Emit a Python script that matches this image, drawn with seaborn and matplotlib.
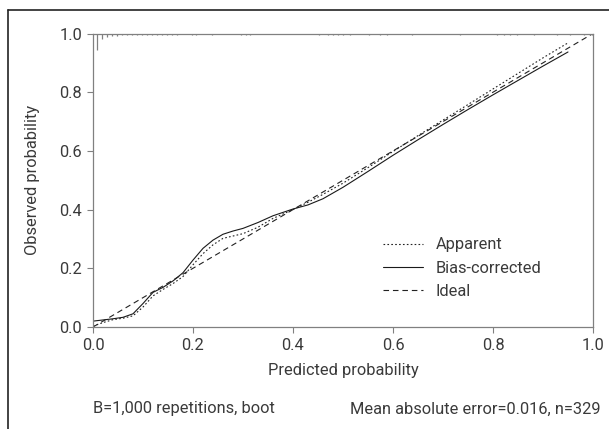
import matplotlib
matplotlib.use("Agg")
import matplotlib.pyplot as plt
import seaborn as sns
import pandas as pd
import numpy as np
from matplotlib.lines import Line2D

# calibration curves
pred_grid = [0.00, 0.02, 0.04, 0.06, 0.08, 0.10, 0.12, 0.14, 0.16, 0.18, 0.20,
             0.22, 0.24, 0.26, 0.28, 0.30, 0.33, 0.36, 0.40, 0.43, 0.46, 0.50,
             0.55, 0.60, 0.65, 0.70, 0.75, 0.80, 0.85, 0.90, 0.95]
apparent = [0.003, 0.015, 0.025, 0.030, 0.038, 0.068, 0.106, 0.128, 0.148, 0.172, 0.212,
            0.250, 0.280, 0.302, 0.310, 0.318, 0.340, 0.370, 0.400, 0.425, 0.452, 0.490,
            0.543, 0.598, 0.652, 0.705, 0.758, 0.811, 0.864, 0.917, 0.968]
bias_corrected = [0.020, 0.024, 0.028, 0.033, 0.045, 0.080, 0.118, 0.135, 0.157, 0.185, 0.228,
                  0.268, 0.296, 0.316, 0.327, 0.336, 0.356, 0.379, 0.402, 0.416, 0.437, 0.476,
                  0.530, 0.585, 0.638, 0.690, 0.741, 0.791, 0.840, 0.889, 0.937]
ideal_x = [0.0, 1.0]
ideal_y = [0.0, 1.0]

# rug of predicted probabilities along the top (position, relative frequency)
rug_x = [0.008, 0.018, 0.028, 0.038, 0.048, 0.058, 0.068, 0.078, 0.088, 0.098, 0.108,
         0.118, 0.128, 0.138, 0.148, 0.158, 0.168, 0.197, 0.206, 0.237, 0.296, 0.305,
         0.314, 0.452, 0.470, 0.480, 0.490, 0.500, 0.514, 0.551, 0.574, 0.587, 0.638,
         0.734, 0.807, 0.821, 0.834, 0.847, 0.881, 0.927, 0.953, 0.981, 0.997]
rug_len = [0.055, 0.020, 0.013, 0.010, 0.008] + [0.006] * (len(rug_x) - 5)

ticks = [0.0, 0.2, 0.4, 0.6, 0.8, 1.0]
tick_labels = ["0.0", "0.2", "0.4", "0.6", "0.8", "1.0"]

sns.set_style("white")
plt.rcParams['font.family'] = ['Roboto', 'DejaVu Sans']
txt = '#3a3a3a'
grey = '#808080'
fs = 11.8

fig = plt.figure(figsize=(6.09, 4.29), dpi=100)
ax = fig.add_axes([93 / 609, 1 - 327 / 429, 500 / 609, 293.5 / 429])

df_app = pd.DataFrame({"x": pred_grid, "y": apparent})
df_bc = pd.DataFrame({"x": pred_grid, "y": bias_corrected})
df_id = pd.DataFrame({"x": ideal_x, "y": ideal_y})

sns.lineplot(data=df_app, x="x", y="y", ax=ax, color='#222222', lw=0.8,
             label="Apparent", sort=False).lines[-1].set_dashes((1.5, 2.0))
sns.lineplot(data=df_bc, x="x", y="y", ax=ax, color='#1a1a1a', lw=0.8,
             label="Bias-corrected", sort=False)
sns.lineplot(data=df_id, x="x", y="y", ax=ax, color='#222222', lw=0.8,
             label="Ideal", sort=False).lines[-1].set_dashes((5.0, 3.5))

# rug hanging from the top
ax.vlines(rug_x, [1.0 - l for l in rug_len], 1.0, color=grey, lw=0.9)

ax.set_xlim(0, 1)
ax.set_ylim(0, 1)
ax.set_xticks(ticks)
ax.set_xticklabels(tick_labels)
ax.set_yticks(ticks)
ax.set_yticklabels(tick_labels)
ax.tick_params(direction='out', length=4, width=0.8, color=grey, labelsize=fs,
               labelcolor=txt, pad=4, bottom=True, left=True)
for s in ax.spines.values():
    s.set_color(grey)
    s.set_linewidth(0.9)

ax.set_xlabel("Predicted probability", fontsize=fs, color=txt, labelpad=7)
ax.set_ylabel("Observed probability", fontsize=fs, color=txt, labelpad=14)

handles, labels = ax.get_legend_handles_labels()
leg = ax.legend(handles, labels, loc='upper left', bbox_to_anchor=(0.58, 0.305),
                frameon=False, fontsize=fs, handlelength=2.45, handletextpad=0.78,
                labelspacing=0.5, borderpad=0, borderaxespad=0)
for t in leg.get_texts():
    t.set_color(txt)

fig.text(93 / 609, 1 - 409 / 429, "B=1,000 repetitions, boot", ha='left', va='center',
         fontsize=fs, color=txt)
fig.text(600 / 609, 1 - 409 / 429, "Mean absolute error=0.016, n=329", ha='right',
         va='center', fontsize=fs, color=txt)

# outer frame (top and left edges)
fig.add_artist(Line2D([8 / 609, 1.0], [1 - 10 / 429, 1 - 10 / 429], color='#222222', lw=1.2))
fig.add_artist(Line2D([8 / 609, 8 / 609], [0.0, 1 - 10 / 429], color='#222222', lw=1.2))

fig.savefig("out.png", dpi=100)
